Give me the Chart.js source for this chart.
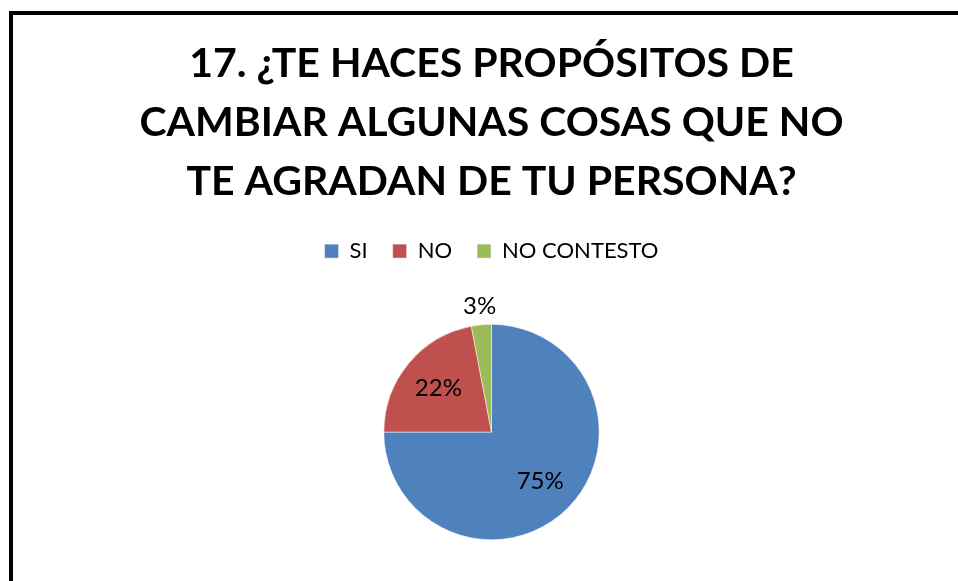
<!DOCTYPE html>
<html>
<head>
<meta charset="utf-8">
<script src="https://cdn.jsdelivr.net/npm/chart.js@4"></script>
<style>
  html, body { margin: 0; padding: 0; background: #fff; overflow: hidden; }
  #frame {
    position: absolute; left: 9px; top: 11px;
    width: 1000px; height: 1000px;
    border-left: 4px solid #000; border-top: 4px solid #000;
    box-shadow: -1px -1px 0 #888 inset;
  }
  #chart { position: absolute; left: 0; top: 0; }
</style>
</head>
<body>
<div id="frame"></div>
<canvas id="chart" width="958" height="581"></canvas>
<script>
// data
const categories = ['SI', 'NO', 'NO CONTESTO'];
const values = [75, 22, 3];
const sliceColors = ['#4F81BD', '#C0504D', '#9BBB59'];
const titleLines = ['17. ¿TE HACES PROPÓSITOS DE', 'CAMBIAR ALGUNAS COSAS QUE NO', 'TE AGRADAN DE TU PERSONA?'];

// percent labels, inside the big slices, outside the small one
const pctLabels = {
    id: 'pctLabels',
    afterDatasetsDraw(chart) {
        const ctx = chart.ctx;
        const meta = chart.getDatasetMeta(0);
        const total = values.reduce((a, b) => a + b, 0);
        ctx.save();
        ctx.font = '24px Lato';
        ctx.fillStyle = '#000';
        ctx.textAlign = 'center';
        ctx.textBaseline = 'middle';
        meta.data.forEach(function(arc, i) {
            const p = arc.getProps(['x', 'y', 'startAngle', 'endAngle', 'outerRadius'], true);
            const mid = (p.startAngle + p.endAngle) / 2;
            const share = values[i] / total;
            const dist = share < 0.05 ? p.outerRadius + 19 : p.outerRadius * 0.64;
            const text = Math.round(share * 100) + '%';
            ctx.fillText(text, p.x + Math.cos(mid) * dist, p.y + Math.sin(mid) * dist);
        });
        ctx.restore();
    }
};

// leave room under the legend, like the original
const legendGap = {
    id: 'legendGap',
    beforeInit(chart) {
        const fit = chart.legend.fit;
        chart.legend.fit = function() {
            fit.bind(chart.legend)();
            this.height += 52;
        };
    }
};

new Chart(document.getElementById('chart'), {
    type: 'pie',
    data: {
        labels: categories,
        datasets: [{
            data: values,
            backgroundColor: sliceColors,
            borderColor: '#ffffff',
            borderWidth: 0.5
        }]
    },
    options: {
        responsive: false,
        animation: false,
        devicePixelRatio: 1,
        layout: { padding: { left: 25, right: 0, top: 0, bottom: 41 } },
        plugins: {
            title: {
                display: true,
                text: titleLines,
                color: '#000',
                font: { family: 'Lato', size: 41, weight: 'bold', lineHeight: 1.44 },
                padding: { top: 34, bottom: 4 }
            },
            legend: {
                display: true,
                position: 'top',
                labels: {
                    color: '#000',
                    font: { family: 'Lato', size: 22 },
                    boxWidth: 14,
                    boxHeight: 14,
                    padding: 25
                }
            },
            tooltip: { enabled: false }
        }
    },
    plugins: [pctLabels, legendGap]
});
</script>
</body>
</html>
